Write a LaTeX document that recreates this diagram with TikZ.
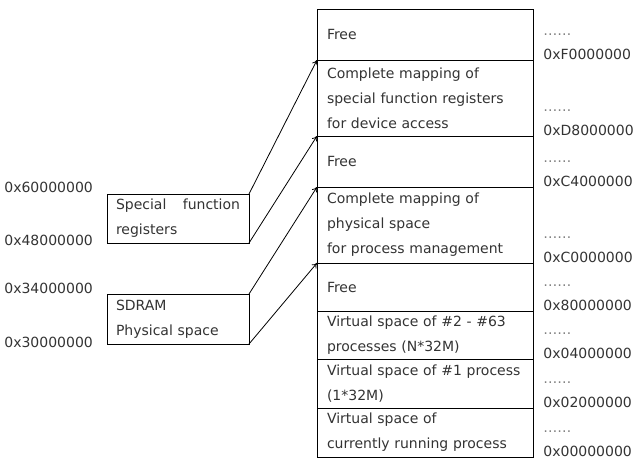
\documentclass[tikz,border=0pt]{standalone}
\usepackage{fontspec}
\setmainfont{DejaVu Sans}
\usetikzlibrary{positioning,arrows.meta}
\begin{document}
\begin{tikzpicture}[x=1pt, y=-1pt, line width=0.8pt,
	every node/.style={font=\fontsize{14}{25}\selectfont, text=black!80},
	mem/.style={draw=black, minimum width=216pt, text width=196pt, inner xsep=10pt, inner ysep=0pt, outer sep=0pt, align=left},
	reg/.style={draw=black, anchor=north west, minimum width=142pt, minimum height=49pt, text width=124pt, inner xsep=9pt, inner ysep=0pt, outer sep=0pt, align=left},
	addr/.style={anchor=west, inner sep=0pt},
	dots/.style={anchor=west, inner sep=0pt, text=black!50},
	link/.style={-{To[length=5pt,width=6pt]}}]
\useasboundingbox (0,0) rectangle (636,467);
\node[mem, minimum height=51pt, anchor=north west] (r1) at (317,9) {Free};
\node[mem, minimum height=76pt, below=0pt of r1] (r2) {Complete mapping of\\special function registers\\for device access};
\node[mem, minimum height=51pt, below=0pt of r2] (r3) {Free};
\node[mem, minimum height=76pt, below=0pt of r3] (r4) {Complete mapping of\\physical space\\for process management};
\node[mem, minimum height=48pt, below=0pt of r4] (r5) {Free};
\node[mem, minimum height=48pt, below=0pt of r5] (r6) {Virtual space of \#2 - \#63\\processes (N*32M)};
\node[mem, minimum height=49pt, below=0pt of r6] (r7) {Virtual space of \#1 process\\(1*32M)};
\node[mem, minimum height=49pt, below=0pt of r7] (r8) {Virtual space of\\currently running process};
\foreach \r/\v in {r1/0xF0000000, r2/0xD8000000, r3/0xC4000000, r4/0xC0000000, r5/0x80000000, r6/0x04000000, r7/0x02000000, r8/0x00000000}{
	\node[dots] (d\r) at ([xshift=10pt, yshift=25pt]\r.south east) {……};
	\node[addr] (a\r) at ([xshift=10pt, yshift=6pt]\r.south east) {\v};
}
\node[reg] (sfr) at (107,194) {Special\hfill function\\registers};
\node[reg, minimum height=50pt] (sdram) at (107,294) {SDRAM\\Physical space};
\node[addr] (l60) at (4,187) {0x60000000};
\node[addr] (l48) at (4,240) {0x48000000};
\node[addr] (l34) at (4,288) {0x34000000};
\node[addr] (l30) at (4,342) {0x30000000};
\draw[link] (sfr.north east) -- (r2.north west);
\draw[link] (sfr.south east) -- (r3.north west);
\draw[link] (sdram.north east) -- (r4.north west);
\draw[link] (sdram.south east) -- (r5.north west);
\end{tikzpicture}
\end{document}
